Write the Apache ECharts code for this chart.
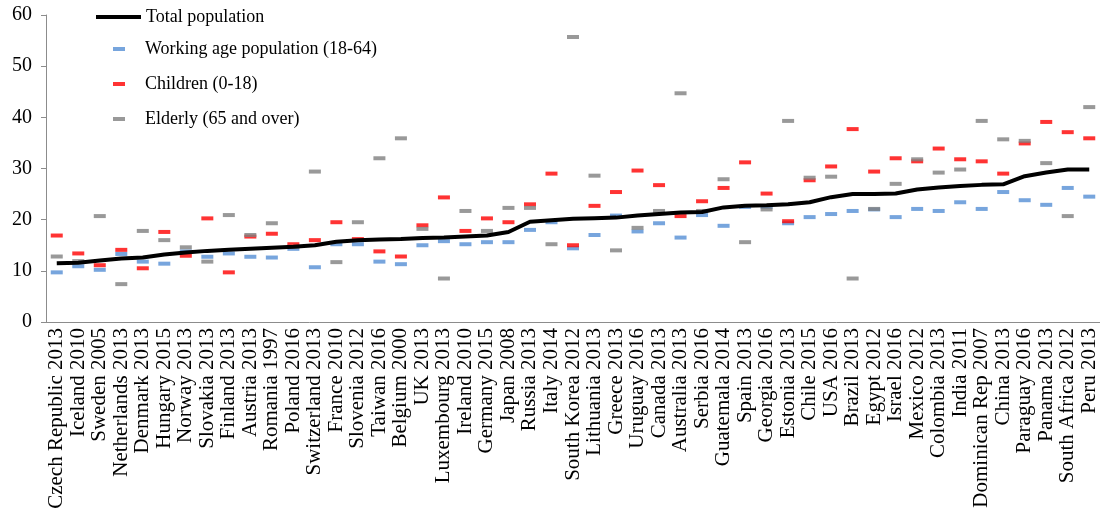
<!DOCTYPE html>
<html>
<head>
<meta charset="utf-8">
<script src="https://cdn.jsdelivr.net/npm/echarts@6/dist/echarts.min.js"></script>
<style>html,body{margin:0;padding:0;background:#fff}#c{width:1100px;height:520px}</style>
</head>
<body>
<div id="c"></div>
<script>
const categories = ["Czech Republic 2013","Iceland 2010","Sweden 2005","Netherlands 2013","Denmark 2013","Hungary 2015","Norway 2013","Slovakia 2013","Finland 2013","Austria 2013","Romania 1997","Poland 2016","Switzerland 2013","France 2010","Slovenia 2012","Taiwan 2016","Belgium 2000","UK 2013","Luxembourg 2013","Ireland 2010","Germany 2015","Japan 2008","Russia 2013","Italy 2014","South Korea 2012","Lithuania 2013","Greece 2013","Uruguay 2016","Canada 2013","Australia 2013","Serbia 2016","Guatemala 2014","Spain 2013","Georgia 2016","Estonia 2013","Chile 2015","USA 2016","Brazil 2013","Egypt 2012","Israel 2016","Mexico 2012","Colombia 2013","India 2011","Dominican Rep 2007","China 2013","Paraguay 2016","Panama 2013","South Africa 2012","Peru 2013"];

const totalPopulation = [11.5,11.6,12.0,12.4,12.6,13.2,13.6,13.9,14.1,14.3,14.5,14.7,15.0,15.7,16.0,16.1,16.2,16.4,16.5,16.7,16.9,17.6,19.6,19.9,20.2,20.3,20.4,20.8,21.1,21.4,21.5,22.4,22.7,22.8,23.0,23.4,24.4,25.0,25.0,25.1,25.9,26.3,26.6,26.8,26.9,28.5,29.2,29.8,29.8];

const workingAge = [9.7,10.9,10.2,13.3,11.8,11.4,13.8,12.75,13.4,12.75,12.6,14.3,10.7,15.2,15.2,11.8,11.3,15.0,15.8,15.2,15.6,15.6,18.0,19.5,14.4,17.0,20.8,17.7,19.3,16.5,20.9,18.8,22.5,22.5,19.3,20.5,21.1,21.7,22.0,20.5,22.1,21.7,23.4,22.1,25.4,23.8,22.9,26.2,24.5];

const children = [16.9,13.4,11.1,14.1,10.5,17.6,12.95,20.25,9.7,16.7,17.25,15.2,16.0,19.5,16.2,13.8,12.8,18.9,24.35,17.8,20.25,19.5,23.0,29.0,15.0,22.7,25.4,29.6,26.75,20.7,23.6,26.2,31.2,25.1,19.7,27.7,30.4,37.7,29.4,32.0,31.4,33.9,31.8,31.4,29.0,34.9,39.1,37.1,35.9];

const elderly = [12.8,11.9,20.7,7.4,17.8,16.0,14.6,11.8,20.9,17.0,19.3,14.7,29.4,11.7,19.5,32.0,35.9,18.2,8.5,21.7,17.8,22.3,22.3,15.2,55.7,28.6,14.0,18.4,21.7,44.7,21.7,27.9,15.6,22.0,39.3,28.2,28.4,8.5,22.1,27.0,31.8,29.2,29.8,39.3,35.7,35.4,31.05,20.7,42.0];

const yTicks = {min: 0, max: 60, interval: 10};

const FONT = 'Liberation Serif';
const chart = echarts.init(document.getElementById('c'), null, {renderer: 'canvas'});

const dash = [12, 4];
chart.setOption({
  animation: false,
  backgroundColor: '#fff',
  textStyle: {fontFamily: FONT},
  grid: {left: 46, right: 0, top: 15, bottom: 198, containLabel: false},
  legend: [
    {
      orient: 'vertical', left: 96, top: 7, padding: 0,
      itemWidth: 45, itemHeight: 4,
      data: [{name: 'Total population', icon: 'rect', itemStyle: {color: '#000'}}],
      textStyle: {fontFamily: FONT, fontSize: 18, color: '#000', lineHeight: 20}
    },
    {
      orient: 'vertical', left: 113, top: 39, padding: 0,
      itemWidth: 12, itemHeight: 4, itemGap: 15,
      data: [
        {name: 'Working age population (18-64)', icon: 'rect'},
        {name: 'Children (0-18)', icon: 'rect'},
        {name: 'Elderly (65 and over)', icon: 'rect'}
      ],
      textStyle: {fontFamily: FONT, fontSize: 18, color: '#000', lineHeight: 20, padding: [0, 0, 0, 15]}
    }
  ],
  xAxis: {
    type: 'category',
    data: categories,
    boundaryGap: true,
    axisLine: {show: true, lineStyle: {color: '#8c8c8c', width: 1}},
    axisTick: {show: false},
    axisLabel: {rotate: 90, interval: 0, fontFamily: FONT, fontSize: 21, color: '#000', margin: 6},
    splitLine: {show: false}
  },
  yAxis: {
    type: 'value',
    min: yTicks.min, max: yTicks.max, interval: yTicks.interval,
    axisLine: {show: true, lineStyle: {color: '#8c8c8c', width: 1}},
    axisTick: {show: true, length: 5, lineStyle: {color: '#8c8c8c'}},
    axisLabel: {fontFamily: FONT, fontSize: 20, color: '#000', margin: 14},
    splitLine: {show: false}
  },
  series: [
    {
      name: 'Total population', type: 'line', data: totalPopulation,
      showSymbol: false, symbol: 'none', z: 5,
      lineStyle: {color: '#000', width: 4},
      itemStyle: {color: '#000'}
    },
    {
      name: 'Working age population (18-64)', type: 'scatter', data: workingAge,
      symbol: 'rect', symbolSize: dash, z: 2,
      itemStyle: {color: '#558ed5'}
    },
    {
      name: 'Children (0-18)', type: 'scatter', data: children,
      symbol: 'rect', symbolSize: dash, z: 3,
      itemStyle: {color: '#ff0000'}
    },
    {
      name: 'Elderly (65 and over)', type: 'scatter', data: elderly,
      symbol: 'rect', symbolSize: dash, z: 4,
      itemStyle: {color: '#808080'}
    }
  ]
});
</script>
</body>
</html>
